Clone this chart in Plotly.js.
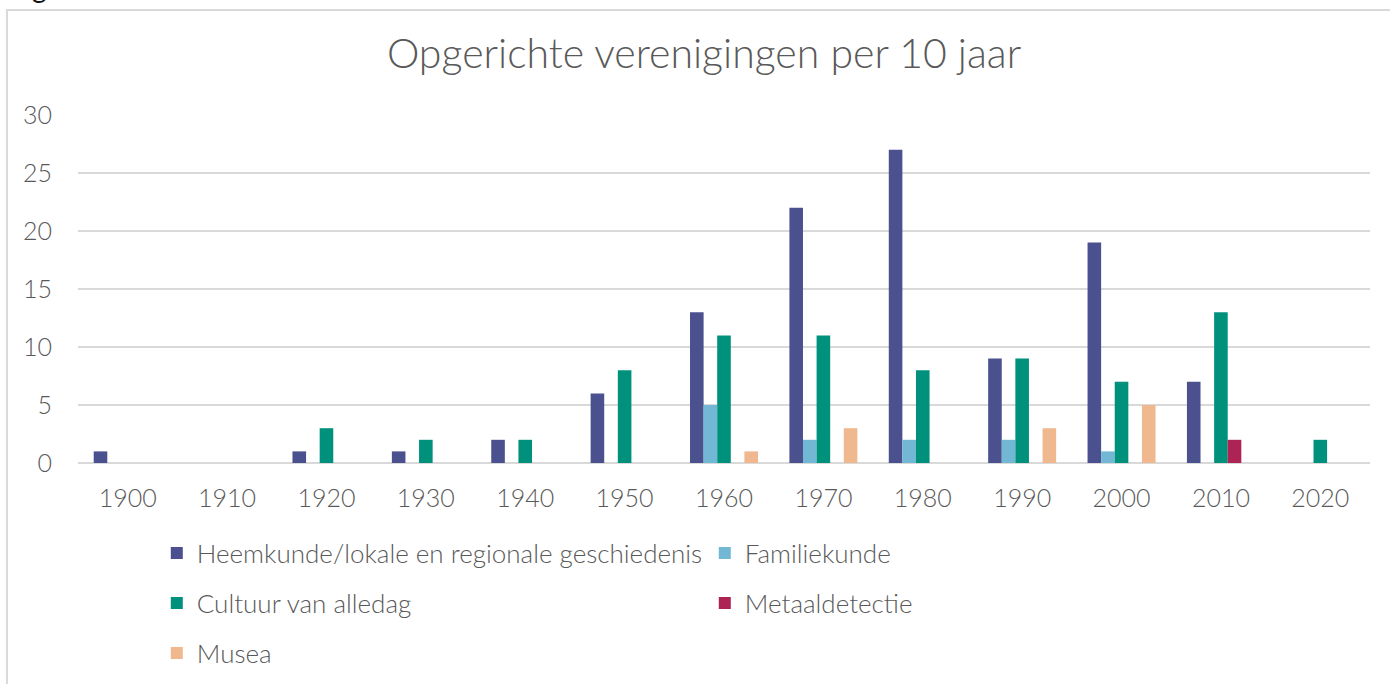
<!DOCTYPE html>
<html>
<head>
<meta charset="utf-8">
<script src="https://cdn.plot.ly/plotly-3.0.1.min.js"></script>
<style>html,body{margin:0;padding:0;background:#fff;}#chart{width:1390px;height:684px;}</style>
</head>
<body>
<div id="chart"></div>
<script>
const decades = ['1900','1910','1920','1930','1940','1950','1960','1970','1980','1990','2000','2010','2020'];
const heemkunde = [1,0,1,1,2,6,13,22,27,9,19,7,0];
const familiekunde = [0,0,0,0,0,0,5,2,2,2,1,0,0];
const cultuur = [0,0,3,2,2,8,11,11,8,9,7,13,2];
const metaaldetectie = [0,0,0,0,0,0,0,0,0,0,0,2,0];
const musea = [0,0,0,0,0,0,1,3,0,3,5,0,0];
const seriesNames = ['Heemkunde/lokale en regionale geschiedenis','Familiekunde','Cultuur van alledag','Metaaldetectie','Musea'];
const yTicks = [0,5,10,15,20,25,30];

const FONT = 'Lato, "Open Sans", sans-serif';
const GREY = '#595959';

function bar(name, y, color, legend) {
  return {type:'bar', name:name, x:decades, y:y, marker:{color:color}, legend:legend, hoverinfo:'x+y+name'};
}
const data = [
  bar(seriesNames[0], heemkunde, '#4b518f', 'legend'),
  bar(seriesNames[1], familiekunde, '#72b8d4', 'legend'),
  bar(seriesNames[2], cultuur, '#00917d', 'legend2'),
  bar(seriesNames[3], metaaldetectie, '#ad2354', 'legend2'),
  bar(seriesNames[4], musea, '#f0b88f', 'legend3')
];

const legendBase = {
  orientation:'h', xanchor:'left', yanchor:'middle', x:0.1128, xref:'container', yref:'container',
  entrywidthmode:'pixels', entrywidth:503,
  font:{family:FONT, size:26, color:GREY, weight:300}, bgcolor:'rgba(0,0,0,0)',
  traceorder:'normal'
};

const layout = {
  width:1390, height:684,
  margin:{l:78, r:20, t:115, b:221},
  paper_bgcolor:'#ffffff', plot_bgcolor:'#ffffff',
  font:{family:FONT, color:GREY, weight:300},
  title:{text:'Opgerichte verenigingen per 10 jaar', font:{family:FONT, size:41, color:GREY, weight:300},
         x:0.5065, xref:'container', xanchor:'center', y:0.921, yref:'container', yanchor:'middle'},
  barmode:'group', bargap:0.316, bargroupgap:0,
  xaxis:{type:'category', tickfont:{family:FONT, size:25, color:GREY, weight:300}, showgrid:false,
         showline:false, zeroline:false, ticks:'', ticklabelstandoff:18, automargin:false},
  yaxis:{range:[0,30], tickvals:yTicks, ticktext:yTicks.map(String), tickfont:{family:FONT, size:25, color:GREY, weight:300},
         showgrid:true, gridcolor:'#d9d9d9', gridwidth:2, zeroline:true, zerolinecolor:'#d9d9d9', zerolinewidth:2,
         showline:false, ticks:'', ticklabelstandoff:25, fixedrange:true, automargin:false},
  legend:Object.assign({}, legendBase, {y:0.1915}),
  legend2:Object.assign({}, legendBase, {y:0.1184}),
  legend3:Object.assign({}, legendBase, {y:0.0453}),
  shapes:[{type:'rect', xref:'paper', yref:'paper', x0:-0.0550, x1:1.02, y0:-0.70, y1:1.3017,
           line:{color:'#d9d9d9', width:2}, fillcolor:'rgba(0,0,0,0)', layer:'below'}],
  annotations:[{text:'g', xref:'paper', yref:'paper', x:-0.0372, y:1.3132, xanchor:'left', yanchor:'bottom',
                showarrow:false, font:{family:FONT, size:28, color:'#111', weight:400}}],
  showlegend:true
};

Plotly.newPlot('chart', data, layout, {displayModeBar:false, staticPlot:true});
</script>
</body>
</html>
